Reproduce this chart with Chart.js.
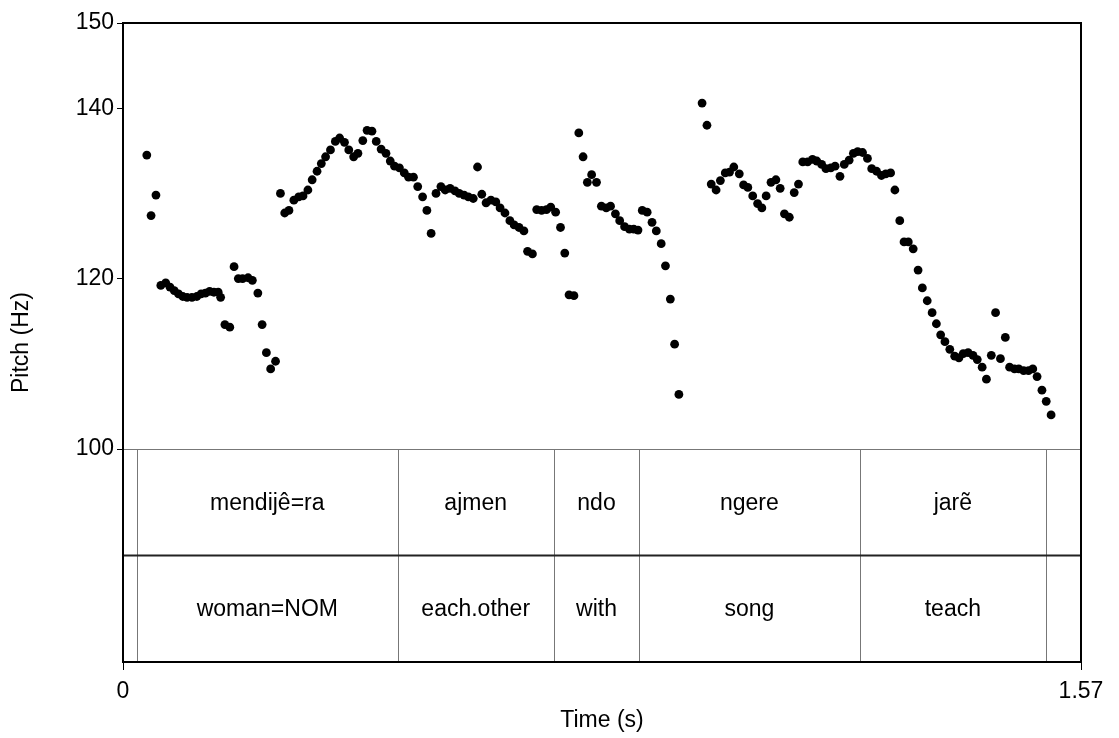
<!DOCTYPE html>
<html>
<head>
<meta charset="utf-8">
<script src="https://cdn.jsdelivr.net/npm/chart.js@4.4.1/dist/chart.umd.min.js"></script>
<style>
  html, body { margin: 0; padding: 0; background: #fff; }
</style>
</head>
<body>
<canvas id="pitchChart" width="1119" height="738"></canvas>
<script>
// --- data ---
const timeS = [
  0.039, 0.046, 0.054, 0.062, 0.070, 0.077, 0.084, 0.091, 0.098, 0.105, 0.113, 0.121, 0.128, 0.135, 0.142, 0.149, 0.156, 0.160,
  0.167, 0.175, 0.182, 0.189, 0.196, 0.205, 0.212, 0.221, 0.228, 0.235, 0.242, 0.250,
  0.258, 0.265, 0.272, 0.280, 0.288, 0.295, 0.303, 0.310, 0.318, 0.325, 0.332, 0.340, 0.348, 0.355, 0.363, 0.370,
  0.378, 0.385, 0.393, 0.400, 0.408, 0.415, 0.423, 0.431, 0.438, 0.445, 0.453, 0.461, 0.468, 0.476, 0.483, 0.491,
  0.498, 0.505, 0.513, 0.521, 0.528, 0.536, 0.544, 0.551, 0.559, 0.566, 0.574, 0.581, 0.588, 0.595, 0.603, 0.611,
  0.618, 0.626, 0.634, 0.641, 0.649, 0.657, 0.663, 0.671, 0.678, 0.686, 0.694, 0.701, 0.709, 0.717, 0.724, 0.731, 0.739,
  0.747, 0.754, 0.761, 0.768, 0.776, 0.784, 0.792, 0.799, 0.807, 0.814, 0.822, 0.830, 0.837, 0.844, 0.851, 0.859,
  0.867, 0.874, 0.882, 0.889, 0.897, 0.904, 0.911,
  0.949, 0.957, 0.964, 0.972, 0.979, 0.987, 0.994, 1.001, 1.010, 1.017, 1.024, 1.032, 1.040, 1.047, 1.054, 1.062,
  1.070, 1.077, 1.084, 1.092, 1.100, 1.107, 1.114, 1.122, 1.130, 1.137, 1.145, 1.152, 1.160, 1.167, 1.175, 1.182,
  1.190, 1.197, 1.204, 1.212, 1.220, 1.227, 1.235, 1.243, 1.250, 1.258, 1.265, 1.273, 1.280, 1.287, 1.295, 1.303,
  1.310, 1.318, 1.326, 1.333, 1.340, 1.347, 1.355, 1.363, 1.370, 1.377, 1.385, 1.393, 1.400, 1.408, 1.415, 1.423,
  1.430, 1.438, 1.446, 1.453, 1.461, 1.468, 1.476, 1.484, 1.491, 1.498, 1.506, 1.513, 1.521
];
const pitchHz = [
  134.5, 127.4, 129.8, 119.2, 119.5, 119.0, 118.6, 118.2, 117.9, 117.8, 117.8, 117.9, 118.2, 118.3, 118.5, 118.4, 118.4, 117.8,
  114.6, 114.3, 121.4, 120.0, 120.0, 120.1, 119.8, 118.3, 114.6, 111.3, 109.4, 110.3,
  130.0, 127.7, 128.0, 129.2, 129.6, 129.7, 130.4, 131.6, 132.6, 133.5, 134.3, 135.1, 136.1, 136.5, 136.0, 135.1,
  134.3, 134.7, 136.2, 137.4, 137.3, 136.1, 135.2, 134.7, 133.8, 133.2, 133.0, 132.4, 131.9, 131.9, 130.8, 129.6,
  128.0, 125.3, 130.0, 130.8, 130.4, 130.6, 130.3, 130.0, 129.8, 129.6, 129.4, 133.1, 129.9, 128.9, 129.2, 129.0,
  128.3, 127.7, 126.8, 126.3, 126.0, 125.6, 123.2, 122.9, 128.1, 128.0, 128.1, 128.4, 127.8, 126.0, 123.0, 118.1, 118.0,
  137.1, 134.3, 131.3, 132.2, 131.3, 128.5, 128.3, 128.5, 127.6, 126.8, 126.1, 125.8, 125.8, 125.7, 128.0, 127.8,
  126.6, 125.6, 124.1, 121.5, 117.6, 112.3, 106.4,
  140.6, 138.0, 131.1, 130.4, 131.5, 132.4, 132.5, 133.1, 132.3, 131.0, 130.7, 129.7, 128.8, 128.3, 129.7, 131.3,
  131.6, 130.6, 127.6, 127.2, 130.1, 131.1, 133.7, 133.7, 134.0, 133.8, 133.4, 132.9, 133.0, 133.2, 132.0, 133.4,
  133.9, 134.7, 134.9, 134.8, 134.1, 132.9, 132.6, 132.1, 132.3, 132.4, 130.4, 126.8, 124.3, 124.3, 123.5, 121.0,
  118.9, 117.4, 116.0, 114.7, 113.4, 112.6, 111.7, 110.9, 110.7, 111.2, 111.3, 111.0, 110.5, 109.6, 108.2, 111.0,
  116.0, 110.6, 113.1, 109.6, 109.4, 109.4, 109.2, 109.2, 109.4, 108.5, 106.9, 105.6, 104.0
];

const yTicks = [100, 120, 140, 150];
const xTicks = [0, 1.57];

// text grid: interval boundaries (s) and the labels of the two tiers
const boundaries = [0.023, 0.450, 0.706, 0.846, 1.207, 1.513];
const words = ['mendijê=ra', 'ajmen', 'ndo', 'ngere', 'jarẽ'];
const glosses = ['woman=NOM', 'each.other', 'with', 'song', 'teach'];
const tierTop = 100, tierMid = 87.5, yMin = 75, yMax = 150;

const FONT = "'Liberation Sans', Arial, Helvetica, sans-serif";
const FS = 23;
Chart.defaults.font.family = FONT;
Chart.defaults.color = '#000';

// draws the two annotation tiers under the pitch track
const textGridPlugin = {
  id: 'textGrid',
  beforeDatasetsDraw(chart) {
    const { ctx, chartArea: a, scales: { x, y } } = chart;
    const yTop = y.getPixelForValue(tierTop);
    const yMid = y.getPixelForValue(tierMid);
    const yBot = y.getPixelForValue(yMin);
    ctx.save();
    ctx.strokeStyle = '#777';
    ctx.lineWidth = 1;
    ctx.beginPath();
    ctx.moveTo(a.left, yTop + 0.5);
    ctx.lineTo(a.right, yTop + 0.5);
    boundaries.forEach(b => {
      const px = Math.round(x.getPixelForValue(b)) + 0.5;
      ctx.moveTo(px, yTop);
      ctx.lineTo(px, yBot);
    });
    ctx.stroke();

    ctx.strokeStyle = '#222';
    ctx.lineWidth = 2;
    ctx.beginPath();
    ctx.moveTo(a.left, yMid);
    ctx.lineTo(a.right, yMid);
    ctx.stroke();

    ctx.fillStyle = '#000';
    ctx.font = FS + 'px ' + FONT;
    ctx.textAlign = 'center';
    ctx.textBaseline = 'middle';
    for (let i = 0; i < words.length; i++) {
      const cx = (x.getPixelForValue(boundaries[i]) + x.getPixelForValue(boundaries[i + 1])) / 2;
      ctx.fillText(words[i], cx, (yTop + yMid) / 2 + 1);
      ctx.fillText(glosses[i], cx, (yMid + yBot) / 2 + 1);
    }
    ctx.restore();
  },
  afterDraw(chart) {
    // full box round the plot
    const { ctx, chartArea: a } = chart;
    ctx.save();
    ctx.strokeStyle = '#000';
    ctx.lineWidth = 2;
    ctx.strokeRect(a.left, a.top, a.right - a.left, a.bottom - a.top);
    ctx.restore();
  }
};

const ctx = document.getElementById('pitchChart').getContext('2d');

new Chart(ctx, {
  type: 'scatter',
  data: {
    datasets: [{
      label: 'Pitch',
      data: timeS.map((t, i) => ({ x: t, y: pitchHz[i] })),
      backgroundColor: '#000',
      borderWidth: 0,
      pointRadius: 4.4,
      pointHoverRadius: 4.4
    }]
  },
  options: {
    responsive: false,
    animation: false,
    devicePixelRatio: 1,
    layout: { padding: { top: 23, right: 38, left: 0, bottom: 0 } },
    plugins: { legend: { display: false }, tooltip: { enabled: false } },
    scales: {
      x: {
        type: 'linear',
        min: 0,
        max: 1.57,
        afterBuildTicks: s => { s.ticks = xTicks.map(v => ({ value: v })); },
        afterFit: s => { s.height = 76; },
        grid: { drawOnChartArea: false, drawTicks: true, tickLength: 8, color: '#000' },
        border: { display: true, color: '#000', width: 2 },
        ticks: { font: { size: FS }, padding: 8, maxRotation: 0, autoSkip: false, callback: v => String(v) },
        title: { display: true, text: 'Time (s)', font: { size: FS }, padding: { top: 0, bottom: 4 } }
      },
      y: {
        type: 'linear',
        min: yMin,
        max: yMax,
        afterBuildTicks: s => { s.ticks = yTicks.map(v => ({ value: v })); },
        afterFit: s => { s.width = 123; },
        grid: { drawOnChartArea: false, drawTicks: true, tickLength: 6, color: '#000' },
        border: { display: true, color: '#000', width: 2 },
        ticks: { font: { size: FS }, padding: 3, autoSkip: false, callback: v => String(v) },
        title: { display: true, text: 'Pitch (Hz)', font: { size: FS }, padding: { top: 8, bottom: 0 } }
      }
    }
  },
  plugins: [textGridPlugin]
});
</script>
</body>
</html>
